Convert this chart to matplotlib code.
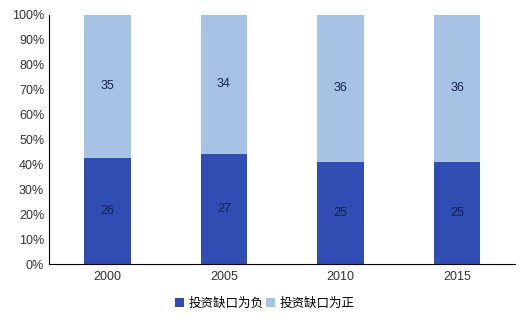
import numpy as np
import matplotlib.pyplot as plt

plt.rcParams['font.family'] = ['Noto Sans CJK SC', 'DejaVu Sans']

years = ['2000', '2005', '2010', '2015']
gap_negative = [26, 27, 25, 25]   # 投资缺口为负
gap_positive = [35, 34, 36, 36]   # 投资缺口为正

neg = np.array(gap_negative, dtype=float)
pos = np.array(gap_positive, dtype=float)
total = neg + pos
neg_pct = neg / total * 100
pos_pct = pos / total * 100

fig = plt.figure(figsize=(5.3, 3.28), dpi=100)
ax = fig.add_axes([0.0925, 0.195, 0.88, 0.76])

x = np.arange(len(years))
dark = '#2f4db3'
light = '#a6c3e6'
b1 = ax.bar(x, neg_pct, width=0.4, color=dark, label='投资缺口为负')
b2 = ax.bar(x, pos_pct, width=0.4, bottom=neg_pct, color=light, label='投资缺口为正')

num_font = ['Liberation Sans', 'DejaVu Sans']
for i in range(len(years)):
    ax.text(x[i], neg_pct[i] / 2, str(gap_negative[i]), ha='center', va='center',
            fontsize=9, color='#14224f', family=num_font)
    ax.text(x[i], neg_pct[i] + pos_pct[i] / 2, str(gap_positive[i]), ha='center', va='center',
            fontsize=9, color='#14224f', family=num_font)

ax.set_xlim(-0.5, len(years) - 0.5)
ax.set_ylim(0, 100)
ax.set_yticks(np.arange(0, 101, 10))
ax.set_yticklabels([f'{v}%' for v in range(0, 101, 10)], family=num_font)
ax.set_xticks(x)
ax.set_xticklabels(years, family=num_font)
ax.tick_params(length=0, labelsize=9, colors='#333333')
ax.tick_params(axis='x', pad=5)

for s in ['top', 'right']:
    ax.spines[s].set_visible(False)
ax.spines['left'].set_color('black')
ax.spines['bottom'].set_color('black')
ax.spines['left'].set_linewidth(0.8)
ax.spines['bottom'].set_linewidth(0.8)

fig.legend(handles=[b1, b2], loc='center', bbox_to_anchor=(0.5, 0.075), ncol=2,
           frameon=False, fontsize=9, handlelength=0.7, handleheight=0.7,
           handletextpad=0.4, columnspacing=0.2)

fig.savefig('out.png', dpi=100)
